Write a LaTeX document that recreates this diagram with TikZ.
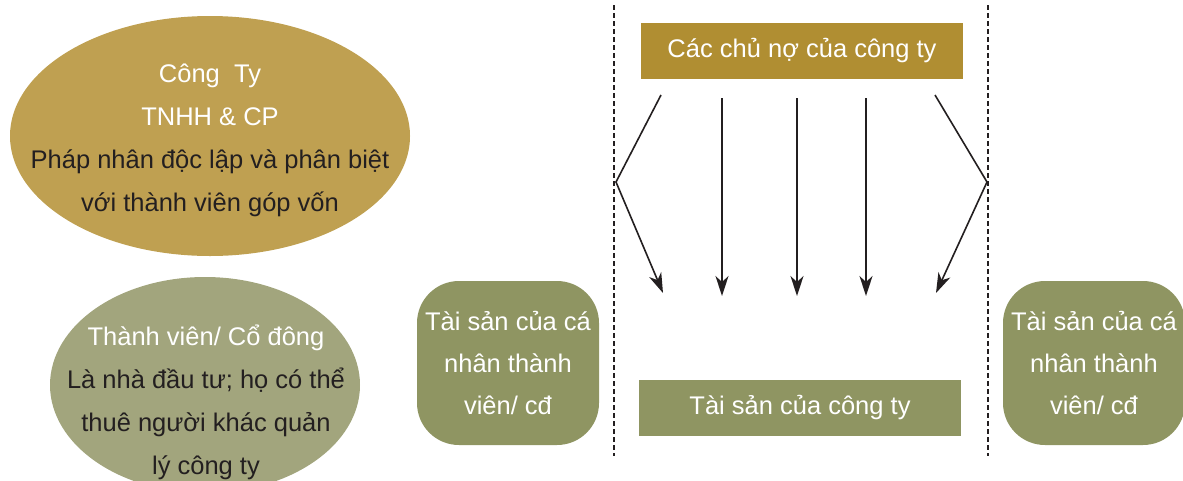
\documentclass[tikz,border=0pt]{standalone}
\usepackage{fontspec}
\setmainfont{Liberation Sans}
\usetikzlibrary{shapes.geometric,arrows.meta}
\definecolor{goldell}{HTML}{BFA051}
\definecolor{goldbox}{HTML}{B08E32}
\definecolor{olive}{HTML}{8F9562}
\definecolor{oliveell}{HTML}{A2A57D}
\definecolor{ink}{HTML}{231F20}
\tikzset{
  txt/.style={align=center,text=ink,font=\fontsize{25.5}{43}\selectfont,inner sep=0pt},
  wtxt/.style={txt,text=white},
  roundbox/.style={fill=olive,rounded corners=42pt,minimum width=182pt,minimum height=164pt,inner sep=0pt},
  flatbox/.style={minimum width=322pt,minimum height=56pt,inner sep=0pt},
  divider/.style={line width=1.4pt,ink,dash pattern=on 5pt off 3pt},
  arr/.style={line width=1.6pt,ink,-{Stealth[length=20pt,width=13pt,inset=6pt]}}
}
\begin{document}
\begin{tikzpicture}[x=1pt,y=-1pt]
\useasboundingbox (0,0) rectangle (1183,480);
\begin{scope}
\clip (0,0) rectangle (1183,480);
% ellipses
\node[ellipse,fill=goldell,minimum width=400pt,minimum height=240pt,inner sep=0pt] (cty) at (210,136) {};
\node[txt] (ctyt) at (210,140) {\textcolor{white}{Công\ \ Ty}\\\textcolor{white}{TNHH \& CP}\\Pháp nhân độc lập và phân biệt\\với thành viên góp vốn};
\node[ellipse,fill=oliveell,minimum width=310pt,minimum height=216pt,inner sep=0pt] (tv) at (205,385) {};
\node[txt] (tvt) at (206,402) {\textcolor{white}{Thành viên/ Cổ đông}\\Là nhà đầu tư; họ có thể\\thuê người khác quản\\lý công ty};
\end{scope}
% dividers
\coordinate (d1t) at (614,5); \coordinate (d1b) at (614,456);
\coordinate (d2t) at (988,5); \coordinate (d2b) at (988,456);
\draw[divider] (d1t) -- (d1b);
\draw[divider] (d2t) -- (d2b);
% boxes
\node[roundbox] (tsl) at (508,363) {};
\node[wtxt,font=\fontsize{25.5}{42}\selectfont] at (tsl.center) {Tài sản của cá\\nhân thành\\viên/ cđ};
\node[roundbox] (tsr) at (1094,363) {};
\node[wtxt,font=\fontsize{25.5}{42}\selectfont] at (tsr.center) {Tài sản của cá\\nhân thành\\viên/ cđ};
\node[flatbox,fill=goldbox] (cn) at (802,51) {};
\node[wtxt] at (cn.center) {Các chủ nợ của công ty};
\node[flatbox,fill=olive] (tsc) at (800,408) {};
\node[wtxt] at (tsc.center) {Tài sản của công ty};
% arrows
\coordinate (a1s) at (661,95); \coordinate (a1m) at (616,182); \coordinate (a1e) at (663,293);
\coordinate (a2s) at (722,98); \coordinate (a2e) at (722,296);
\coordinate (a3s) at (797,98); \coordinate (a3e) at (797,296);
\coordinate (a4s) at (866,98); \coordinate (a4e) at (866,296);
\coordinate (a5s) at (935,95); \coordinate (a5m) at (987,182); \coordinate (a5e) at (936,293);
\draw[arr] (a1s) -- (a1m) -- (a1e);
\draw[arr] (a2s) -- (a2e);
\draw[arr] (a3s) -- (a3e);
\draw[arr] (a4s) -- (a4e);
\draw[arr] (a5s) -- (a5m) -- (a5e);
\end{tikzpicture}
\end{document}
